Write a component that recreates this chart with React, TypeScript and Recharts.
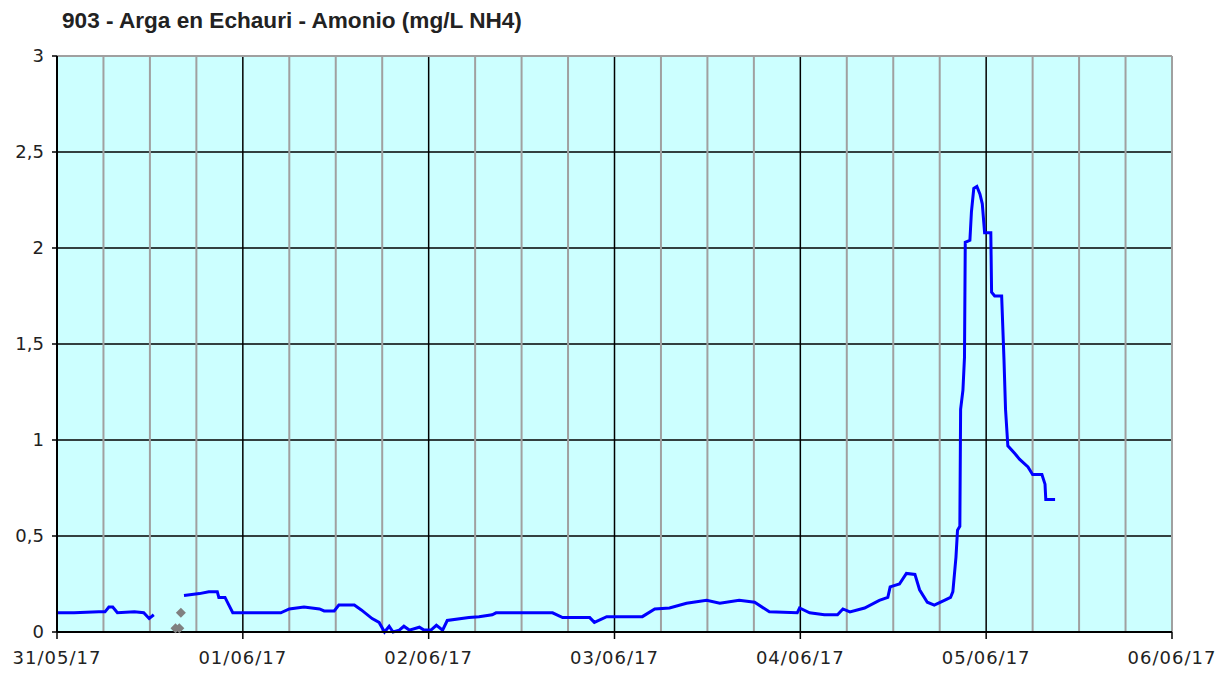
import {
  ComposedChart,
  Line,
  Scatter,
  XAxis,
  YAxis,
  CartesianGrid,
  ReferenceLine,
} from 'recharts'

// hours since 31/05/17 00:00, amonio (mg/L NH4)
const hours = [
  0, 2.2, 5.4, 6.2, 6.7, 7.2, 7.8, 10.0, 11.2, 11.9, 12.5, 14.0,
  16.4, 18.4, 19.6, 20.7, 20.9, 21.7, 22.2, 22.7, 28.9, 30.0, 31.9, 33.9, 34.5, 35.8,
  36.4, 38.4, 39.3, 40.7, 41.6, 42.3, 42.9, 43.4, 44.2, 44.8, 45.5, 46.8, 47.4, 48.3,
  49.0, 49.8, 50.4, 53.2, 54.5, 56.2, 56.7, 64.0, 65.3, 68.8, 69.4, 71.0, 75.6, 77.2,
  79.1, 81.3, 83.9, 85.6, 88.1, 90.1, 92.0, 95.6, 95.9, 97.2, 99.1, 100.8, 101.5, 102.4,
  104.3, 106.2, 107.3, 107.6, 108.8, 109.7, 110.8, 111.4, 112.4, 113.3, 114.6, 115.4,
  115.7, 115.9, 116.1, 116.3, 116.6, 116.7, 117.0, 117.2, 117.3, 117.9, 118.1, 118.4,
  118.8, 119.2, 119.5, 119.8, 120.6, 120.7, 121.1, 122.0, 122.3, 122.5, 122.8, 123.7,
  124.3, 125.4, 126.0, 127.2, 127.6, 127.7, 128.9,
]
const amonio: (number | null)[] = [
  0.1, 0.1, 0.105, 0.105, 0.13, 0.13, 0.1, 0.105, 0.1, 0.07, 0.09, null,
  0.19, 0.2, 0.21, 0.21, 0.18, 0.18, 0.14, 0.1, 0.1, 0.12, 0.13, 0.12, 0.11, 0.11,
  0.14, 0.14, 0.115, 0.07, 0.05, 0.0, 0.03, 0.0, 0.01, 0.03, 0.01, 0.025, 0.01, 0.01,
  0.035, 0.01, 0.06, 0.075, 0.08, 0.09, 0.1, 0.1, 0.075, 0.075, 0.05, 0.08, 0.08, 0.12,
  0.125, 0.15, 0.165, 0.15, 0.165, 0.155, 0.105, 0.1, 0.125, 0.1, 0.09, 0.09, 0.12, 0.105,
  0.125, 0.165, 0.18, 0.235, 0.25, 0.305, 0.3, 0.22, 0.155, 0.14, 0.165, 0.18,
  0.21, 0.3, 0.39, 0.53, 0.55, 1.16, 1.26, 1.43, 2.03, 2.04, 2.19, 2.31,
  2.32, 2.28, 2.23, 2.08, 2.08, 1.77, 1.75, 1.75, 1.42, 1.16, 0.97, 0.93,
  0.9, 0.86, 0.82, 0.82, 0.77, 0.69, 0.69,
]

// gray points (invalid readings)
const badHours = [15.3, 15.8, 16.0]
const badValues = [0.02, 0.02, 0.1]

const dayLabels = ['31/05/17', '01/06/17', '02/06/17', '03/06/17', '04/06/17', '05/06/17', '06/06/17']
const dayTicks = [0, 24, 48, 72, 96, 120, 144]
const minorTicks = [6, 12, 18, 30, 36, 42, 54, 60, 66, 78, 84, 90, 102, 108, 114, 126, 132, 138, 144]
const majorTicks = [24, 48, 72, 96, 120]
const yTicks = [0, 0.5, 1, 1.5, 2, 2.5, 3]

const lineData = hours.map((h, i) => ({ h, v: amonio[i] }))
const badData = badHours.map((h, i) => ({ h, v: badValues[i] }))

const tickStyle = { fontFamily: 'DejaVu Sans', fontSize: 18, fill: '#222' }

function Diamond(props: any) {
  const { cx, cy } = props
  if (cx == null || cy == null) return null
  const r = 5
  return (
    <polygon
      points={`${cx},${cy - r} ${cx + r},${cy} ${cx},${cy + r} ${cx - r},${cy}`}
      fill="#808080"
    />
  )
}

export default function App() {
  return (
    <div style={{ position: 'relative', width: 1216, height: 660 }}>
      <div
        style={{
          position: 'absolute',
          left: 54,
          top: 0,
          font: 'bold 22.6px "Liberation Sans", Arial, sans-serif',
          color: '#222',
          whiteSpace: 'nowrap',
        }}
      >
        903 - Arga en Echauri - Amonio (mg/L NH4)
      </div>
      <ComposedChart
        width={1216}
        height={660}
        margin={{ top: 48, right: 52, left: 0, bottom: 0 }}
      >
        <CartesianGrid
          fill="#ccffff"
          vertical={false}
          stroke="#000"
          strokeWidth={1.5}
          horizontalValues={[0.5, 1, 1.5, 2, 2.5]}
        />
        {minorTicks.map(h => (
          <ReferenceLine key={'m' + h} x={h} stroke="#a0a0a0" strokeWidth={2} />
        ))}
        {majorTicks.map(h => (
          <ReferenceLine key={'M' + h} x={h} stroke="#000" strokeWidth={1.5} />
        ))}
        <ReferenceLine y={3} stroke="#a0a0a0" strokeWidth={2} />
        <XAxis
          dataKey="h"
          type="number"
          domain={[0, 144]}
          ticks={dayTicks}
          tickFormatter={(v: number) => dayLabels[dayTicks.indexOf(v)] ?? ''}
          allowDataOverflow
          height={36}
          tick={{ ...tickStyle, letterSpacing: 1 }}
          tickSize={7}
          tickMargin={12}
          axisLine={{ stroke: '#000', strokeWidth: 2 }}
          tickLine={{ stroke: '#000', strokeWidth: 1.5 }}
          interval={0}
        />
        <YAxis
          dataKey="v"
          type="number"
          domain={[0, 3]}
          ticks={yTicks}
          tickFormatter={(v: number) => String(v).replace('.', ',')}
          width={49}
          tick={tickStyle}
          tickSize={5}
          tickMargin={8}
          axisLine={{ stroke: '#000', strokeWidth: 2 }}
          tickLine={{ stroke: '#000', strokeWidth: 1.5 }}
        />
        <Scatter
          data={badData}
          dataKey="v"
          shape={Diamond}
          isAnimationActive={false}
        />
        <Line
          data={lineData}
          dataKey="v"
          type="linear"
          stroke="#0000ff"
          strokeWidth={3}
          dot={false}
          activeDot={false}
          connectNulls={false}
          isAnimationActive={false}
        />
      </ComposedChart>
    </div>
  )
}
